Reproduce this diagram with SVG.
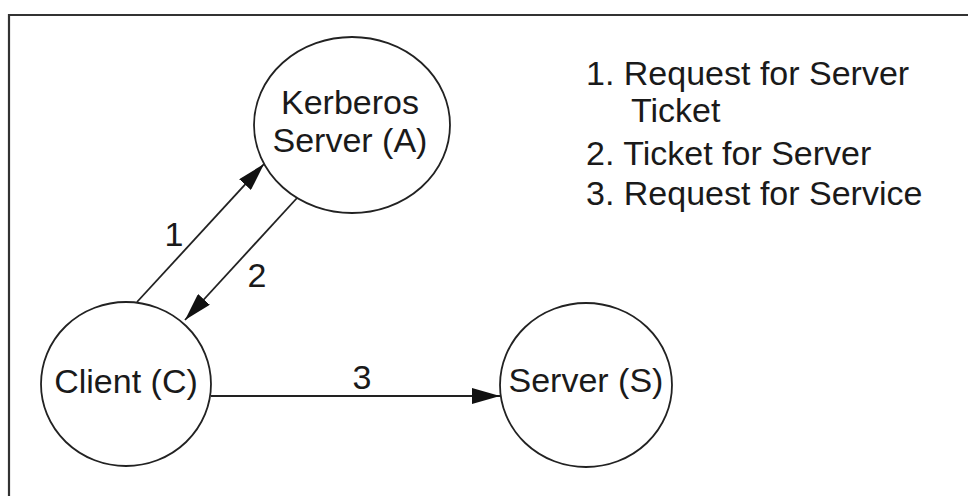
<svg xmlns="http://www.w3.org/2000/svg" width="968" height="496" viewBox="0 0 968 496">
  <style>
    .node { fill: #fff; stroke: #222; stroke-width: 1.8; }
    .lbl { font-family: "Liberation Sans", Arial, sans-serif; font-size: 34px; fill: #1a1a1a; }
    .edge { stroke: #222; stroke-width: 1.8; fill: none; }
    .frame { stroke: #333; stroke-width: 2.2; fill: none; }
  </style>
  <defs>
    <marker id="head" viewBox="0 0 28 16" refX="28" refY="8" markerWidth="28" markerHeight="16" markerUnits="userSpaceOnUse" orient="auto">
      <path d="M0,0 L28,8 L0,16 Z" fill="#111"/>
    </marker>
  </defs>
  <rect width="968" height="496" fill="#fff"/>

  <!-- frame: top and left edges -->
  <path class="frame" d="M9,496 L9,15 L968,15"/>

  <!-- connectors -->
  <g id="connectors">
    <line class="edge" x1="137" y1="302" x2="264" y2="164" marker-end="url(#head)"/>
    <line class="edge" x1="297" y1="198" x2="185" y2="320" marker-end="url(#head)"/>
    <line class="edge" x1="211" y1="396" x2="500" y2="396" marker-end="url(#head)"/>
    <text class="lbl" x="174" y="246" text-anchor="middle">1</text>
    <text class="lbl" x="257" y="287" text-anchor="middle">2</text>
    <text class="lbl" x="362" y="389" text-anchor="middle">3</text>
  </g>

  <g id="kerberos">
    <ellipse class="node" cx="352" cy="125" rx="98" ry="88"/>
    <text class="lbl" x="350" y="114" text-anchor="middle">Kerberos</text>
    <text class="lbl" x="350" y="152" text-anchor="middle">Server (A)</text>
  </g>

  <g id="client">
    <ellipse class="node" cx="126" cy="384" rx="85" ry="82"/>
    <text class="lbl" x="126" y="393" text-anchor="middle">Client (C)</text>
  </g>

  <g id="server">
    <ellipse class="node" cx="586" cy="385" rx="86" ry="82"/>
    <text class="lbl" x="586" y="392" text-anchor="middle">Server (S)</text>
  </g>

  <g id="legend">
    <text class="lbl" x="586" y="85">1. Request for Server</text>
    <text class="lbl" x="631" y="122">Ticket</text>
    <text class="lbl" x="586" y="165">2. Ticket for Server</text>
    <text class="lbl" x="586" y="205">3. Request for Service</text>
  </g>
</svg>
